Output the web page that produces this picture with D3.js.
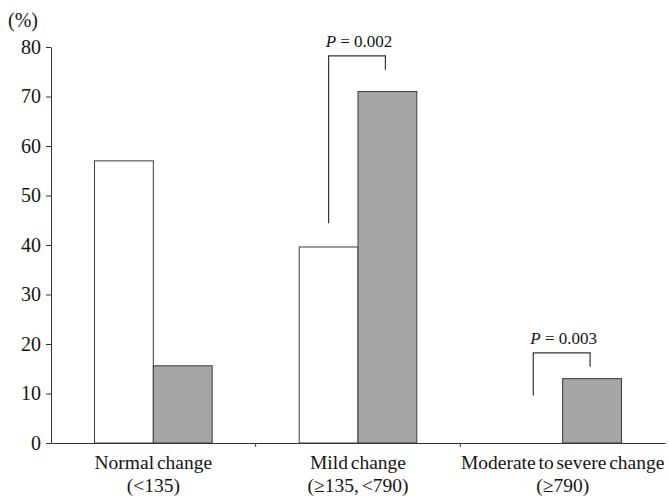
<!DOCTYPE html>
<html>
<head>
<meta charset="utf-8">
<script src="https://cdn.jsdelivr.net/npm/d3@7"></script>
<style>
  body { margin: 0; background: #fff; }
  svg text { font-family: "Liberation Serif", "Times New Roman", serif; fill: #151515; }
</style>
</head>
<body>
<svg id="chart" width="669" height="496"></svg>
<script>
// chart values
var categories = ["Normal change", "Mild change", "Moderate to severe change"];
var subLabels = ["(<135)", "(\u2265135, <790)", "(\u2265790)"];
var seriesNames = ["open", "shaded"];
var openValues = [57, 39.6, 0];
var shadedValues = [15.6, 71, 13];
var yTicks = [0, 10, 20, 30, 40, 50, 60, 70, 80];
// significance brackets (heights in % units)
var comparisons = [
  { category: "Mild change", p: "0.002", top: 78.2, leftEnd: 44.4, rightEnd: 75.4 },
  { category: "Moderate to severe change", p: "0.003", top: 18.2, leftEnd: 9.6, rightEnd: 15.4 }
];

var svg = d3.select("#chart");
var margin = { left: 51, right: 4, top: 47, bottom: 53 };
var width = 669, height = 496;

var y = d3.scaleLinear()
  .domain([0, 80])
  .range([height - margin.bottom, margin.top]);

var x = d3.scaleBand()
  .domain(categories)
  .range([margin.left, width - margin.right])
  .paddingInner(0)
  .paddingOuter(0);

var x1 = d3.scaleBand()
  .domain(seriesNames)
  .range([0, x.bandwidth()])
  .paddingInner(0)
  .paddingOuter(0.74);

var rows = categories.map(function(c, i) {
  return { category: c, open: openValues[i], shaded: shadedValues[i] };
});

// bars
var groups = svg.append("g").attr("class", "bars")
  .selectAll("g")
  .data(rows)
  .join("g")
  .attr("transform", function(d) { return "translate(" + x(d.category) + ",0)"; });

groups.selectAll("rect")
  .data(function(d) { return seriesNames.map(function(s) { return { key: s, value: d[s] }; }); })
  .join("rect")
  .filter(function(d) { return d.value > 0; })
  .attr("x", function(d) { return x1(d.key); })
  .attr("y", function(d) { return y(d.value); })
  .attr("width", x1.bandwidth())
  .attr("height", function(d) { return y(0) - y(d.value); })
  .attr("fill", function(d) { return d.key === "shaded" ? "#a5a5a5" : "#fff"; })
  .attr("stroke", "#3a3a3a")
  .attr("stroke-width", 1);

// y axis
var yAxis = d3.axisLeft(y)
  .tickValues(yTicks)
  .tickSize(5)
  .tickSizeOuter(0)
  .tickPadding(5);

var yG = svg.append("g")
  .attr("class", "y-axis")
  .attr("transform", "translate(" + margin.left + ",0)")
  .call(yAxis);
yG.selectAll("path, line").attr("stroke", "#333");
yG.selectAll("text")
  .style("font-size", "20px")
  .style("font-family", "'Liberation Serif', serif")
  .attr("fill", "#151515");

svg.append("text")
  .attr("x", 8)
  .attr("y", 27)
  .style("font-size", "20px")
  .text("(%)");

// x axis: line plus ticks on the group boundaries
var xAxis = d3.axisBottom(x).tickSize(0).tickSizeOuter(0).tickFormat("");
var xG = svg.append("g")
  .attr("class", "x-axis")
  .attr("transform", "translate(0," + y(0) + ")")
  .call(xAxis);
xG.select(".domain").attr("stroke", "#333");
xG.selectAll(".tick").remove();

xG.selectAll("line.sep")
  .data(categories.slice(1))
  .join("line")
  .attr("class", "sep")
  .attr("x1", function(d) { return x(d); })
  .attr("x2", function(d) { return x(d); })
  .attr("y1", 0)
  .attr("y2", 4)
  .attr("stroke", "#333");

var labels = svg.append("g").attr("class", "x-labels")
  .selectAll("text")
  .data(categories)
  .join("text")
  .attr("text-anchor", "middle")
  .attr("x", function(d) { return x(d) + x.bandwidth() / 2; })
  .attr("y", y(0) + 26)
  .style("font-size", "19.5px")
  .style("word-spacing", "-2px");
labels.append("tspan").text(function(d) { return d; });
labels.append("tspan")
  .attr("x", function(d) { return x(d) + x.bandwidth() / 2; })
  .attr("dy", 23)
  .text(function(d, i) { return subLabels[i]; });

// p-value brackets
var br = svg.append("g").attr("class", "brackets")
  .selectAll("g")
  .data(comparisons)
  .join("g");

br.append("path")
  .attr("fill", "none")
  .attr("stroke", "#333")
  .attr("stroke-width", 1.2)
  .attr("d", function(d) {
    var xl = x(d.category) + x1("open") + x1.bandwidth() / 2;
    var xr = x(d.category) + x1("shaded") + x1.bandwidth() / 2 - 2;
    return "M" + xl + "," + y(d.leftEnd) + "V" + y(d.top) + "H" + xr + "V" + y(d.rightEnd);
  });

var pt = br.append("text")
  .attr("text-anchor", "middle")
  .attr("x", function(d) { return x(d.category) + x.bandwidth() / 2 + 1; })
  .attr("y", function(d) { return y(d.top) - 9; })
  .style("font-size", "17px");
pt.append("tspan").style("font-style", "italic").text("P");
pt.append("tspan").text(function(d) { return " = " + d.p; });
</script>
</body>
</html>
